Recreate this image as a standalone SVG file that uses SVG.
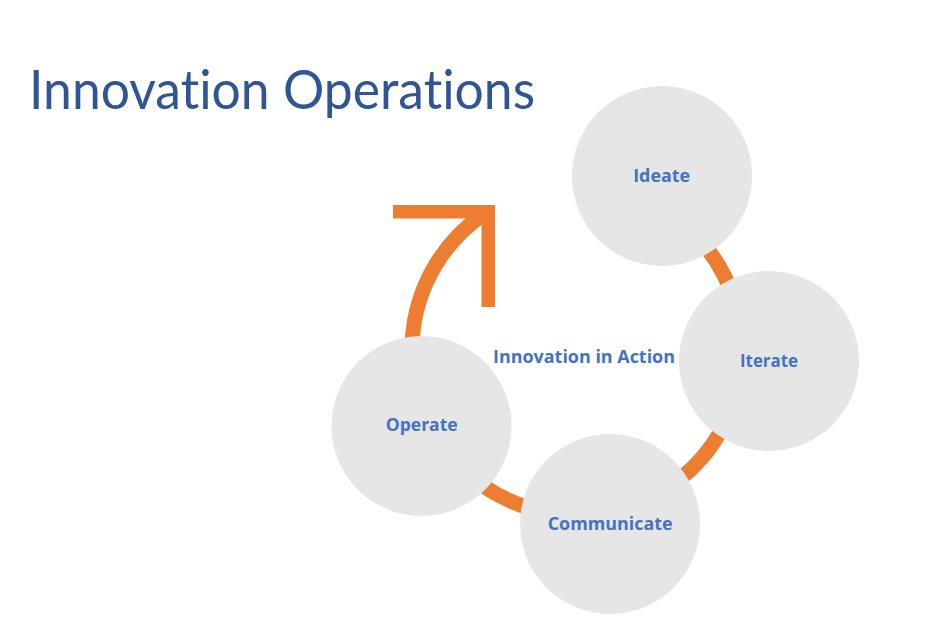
<svg xmlns="http://www.w3.org/2000/svg" width="952" height="638" viewBox="0 0 952 638">
<style>
.node{fill:#E7E6E6;}
.lbl{font-family:"Open Sans","Noto Sans",sans-serif;font-weight:bold;font-size:18.5px;fill:#4472C4;text-anchor:middle;}
.ring{fill:none;stroke:#ED7D31;stroke-width:15;}
.title{font-family:Lato,"Open Sans",sans-serif;font-size:54px;fill:#2F5597;font-variant-ligatures:none;font-feature-settings:"liga" 0;}
</style>
<rect x="0" y="0" width="952" height="638" fill="#FFFFFF"/>
<text class="title" x="29" y="109" textLength="506" lengthAdjust="spacingAndGlyphs">Innovation Operations</text>
<g id="connectors">
<path class="ring" d="M605.6,187.5 A165,165 0 1 1 484.7,213.2"/>
<polygon fill="#ED7D31" points="393,205 495,205 495,307 481.5,307 481.5,218.5 393,218.5"/>
</g>
<text class="lbl" x="584" y="362.7" textLength="182" lengthAdjust="spacingAndGlyphs">Innovation in Action</text>
<g id="ideate">
<circle class="node" cx="662" cy="176" r="90"/>
<text class="lbl" x="661.7" y="182.3" textLength="57" lengthAdjust="spacingAndGlyphs">Ideate</text>
</g>
<g id="iterate">
<circle class="node" cx="769" cy="361" r="90"/>
<text class="lbl" x="769" y="367.3" textLength="58" lengthAdjust="spacingAndGlyphs">Iterate</text>
</g>
<g id="communicate">
<circle class="node" cx="610" cy="524" r="90"/>
<text class="lbl" x="610.2" y="530" textLength="125" lengthAdjust="spacingAndGlyphs">Communicate</text>
</g>
<g id="operate">
<circle class="node" cx="421.5" cy="426" r="90"/>
<text class="lbl" x="421.7" y="431" textLength="72" lengthAdjust="spacingAndGlyphs">Operate</text>
</g>
</svg>
